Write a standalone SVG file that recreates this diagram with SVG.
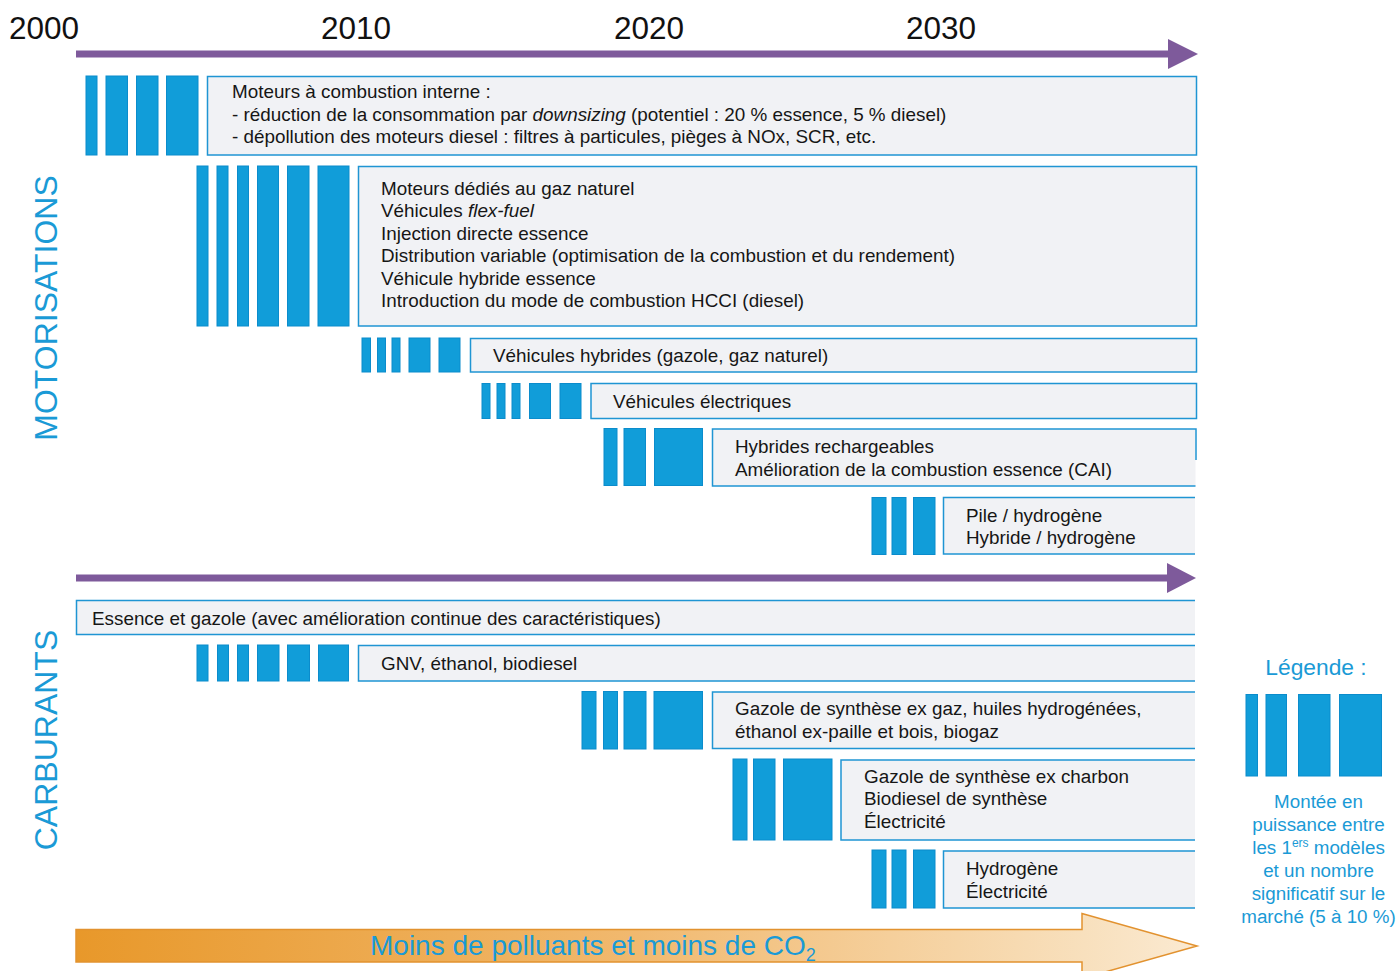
<svg xmlns="http://www.w3.org/2000/svg" width="1398" height="971" viewBox="0 0 1398 971">
  <defs>
    <style>
      .box { fill: #f1f2f5; stroke: #1f95d3; stroke-width: 1.5; }
      .fill { fill: #f1f2f5; stroke: none; }
      .edge { fill: none; stroke: #1f95d3; stroke-width: 1.5; }
      .bar { fill: #119dd9; stroke: #0b8ccc; stroke-width: 1; }
      .t { font-family: "Liberation Sans", Arial, Helvetica, sans-serif; font-size: 18.85px; fill: #161616; }
      .year { font-family: "Liberation Sans", Arial, Helvetica, sans-serif; font-size: 31.5px; fill: #111; }
      .side { font-family: "Liberation Sans", Arial, Helvetica, sans-serif; font-size: 32px; fill: #1a9ad6; text-anchor: middle; }
      .leg { font-family: "Liberation Sans", Arial, Helvetica, sans-serif; font-size: 18.8px; fill: #1a9ad6; text-anchor: middle; }
      .axis { fill: #7e5a9b; }
      .i { font-style: italic; }
    </style>
    <linearGradient id="orange" gradientUnits="userSpaceOnUse" x1="76" y1="0" x2="1197" y2="0">
      <stop offset="0" stop-color="#e8982a"/>
      <stop offset="0.5" stop-color="#f1b96f"/>
      <stop offset="0.9" stop-color="#f8e0bd"/>
      <stop offset="1" stop-color="#fbead2"/>
    </linearGradient>
  </defs>

  <rect width="1398" height="971" fill="#ffffff"/>

  <!-- year scale -->
  <g id="years">
    <text class="year" x="9" y="39">2000</text>
    <text class="year" x="321" y="39">2010</text>
    <text class="year" x="614" y="39">2020</text>
    <text class="year" x="906" y="39">2030</text>
  </g>

  <!-- section titles -->
  <text class="side" transform="translate(57,308) rotate(-90)">MOTORISATIONS</text>
  <text class="side" transform="translate(57,740) rotate(-90)">CARBURANTS</text>

  <!-- timeline arrows -->
  <g id="connectors">
    <rect class="axis" x="76" y="50.5" width="1093" height="7"/>
    <polygon class="axis" points="1168,39 1198,54 1168,69"/>
    <rect class="axis" x="76" y="574.5" width="1092" height="7"/>
    <polygon class="axis" points="1167,563 1196,578 1167,593"/>
    <path d="M76,929.5 H1082 V913.5 L1197,946 L1082,978.5 V962 H76 Z" fill="url(#orange)" stroke="#e2922f" stroke-width="1.5"/>
    <text x="370" y="955" font-family="'Liberation Sans', Arial, Helvetica, sans-serif" font-size="28" fill="#1a9ad6">Moins de polluants et moins de CO<tspan font-size="18" dy="6">2</tspan></text>
  </g>

  <!-- MOTORISATIONS -->
  <g id="combustion-interne">
    <rect class="bar" x="86" y="76" width="11" height="79"/>
    <rect class="bar" x="106" y="76" width="21.5" height="79"/>
    <rect class="bar" x="136.5" y="76" width="21.5" height="79"/>
    <rect class="bar" x="166.5" y="76" width="31.5" height="79"/>
    <rect class="box" x="207.5" y="76.5" width="989" height="78.5"/>
    <text class="t" x="232" y="98">Moteurs à combustion interne :</text>
    <text class="t" x="232" y="120.5">- réduction de la consommation par <tspan class="i">downsizing</tspan> (potentiel : 20 % essence, 5 % diesel)</text>
    <text class="t" x="232" y="143">- dépollution des moteurs diesel : filtres à particules, pièges à NOx, SCR, etc.</text>
  </g>

  <g id="gaz-naturel-flexfuel">
    <rect class="bar" x="197" y="166" width="11" height="160"/>
    <rect class="bar" x="217" y="166" width="11" height="160"/>
    <rect class="bar" x="237.5" y="166" width="11" height="160"/>
    <rect class="bar" x="257.5" y="166" width="21" height="160"/>
    <rect class="bar" x="287.5" y="166" width="21.5" height="160"/>
    <rect class="bar" x="318" y="166" width="31" height="160"/>
    <rect class="box" x="358.5" y="166.5" width="838" height="159.5"/>
    <text class="t" x="381" y="194.5">Moteurs dédiés au gaz naturel</text>
    <text class="t" x="381" y="217">Véhicules <tspan class="i">flex-fuel</tspan></text>
    <text class="t" x="381" y="239.5">Injection directe essence</text>
    <text class="t" x="381" y="262">Distribution variable (optimisation de la combustion et du rendement)</text>
    <text class="t" x="381" y="284.5">Véhicule hybride essence</text>
    <text class="t" x="381" y="307">Introduction du mode de combustion HCCI (diesel)</text>
  </g>

  <g id="hybrides-gazole">
    <rect class="bar" x="362" y="338" width="8.5" height="34"/>
    <rect class="bar" x="377.5" y="338" width="8" height="34"/>
    <rect class="bar" x="392" y="338" width="8" height="34"/>
    <rect class="bar" x="409" y="338" width="21" height="34"/>
    <rect class="bar" x="439" y="338" width="21" height="34"/>
    <rect class="box" x="470.5" y="338.5" width="726" height="33.5"/>
    <text class="t" x="493" y="362">Véhicules hybrides (gazole, gaz naturel)</text>
  </g>

  <g id="electriques">
    <rect class="bar" x="482" y="383.5" width="8" height="35"/>
    <rect class="bar" x="497" y="383.5" width="8" height="35"/>
    <rect class="bar" x="512" y="383.5" width="8" height="35"/>
    <rect class="bar" x="529.5" y="383.5" width="21" height="35"/>
    <rect class="bar" x="560" y="383.5" width="21" height="35"/>
    <rect class="box" x="591" y="383.5" width="605.5" height="35"/>
    <text class="t" x="613" y="407.5">Véhicules électriques</text>
  </g>

  <g id="hybrides-rechargeables">
    <rect class="bar" x="604" y="428.5" width="13" height="57"/>
    <rect class="bar" x="624" y="428.5" width="21.5" height="57"/>
    <rect class="bar" x="654.5" y="428.5" width="48" height="57"/>
    <rect class="fill" x="712.5" y="429" width="483" height="57"/>
    <path class="edge" d="M1196,460 V429 H712.5 V486 H1195.5"/>
    <text class="t" x="735" y="453">Hybrides rechargeables</text>
    <text class="t" x="735" y="475.5">Amélioration de la combustion essence (CAI)</text>
  </g>

  <g id="pile-hydrogene">
    <rect class="bar" x="872" y="497.5" width="14" height="57"/>
    <rect class="bar" x="892" y="497.5" width="14" height="57"/>
    <rect class="bar" x="913.5" y="497.5" width="21.5" height="57"/>
    <rect class="fill" x="943.5" y="497.5" width="251.5" height="56.5"/>
    <path class="edge" d="M1195,497.5 H943.5 V554 H1195"/>
    <text class="t" x="966" y="521.5">Pile / hydrogène</text>
    <text class="t" x="966" y="544">Hybride / hydrogène</text>
  </g>

  <!-- CARBURANTS -->
  <g id="essence-gazole">
    <rect class="fill" x="76.5" y="600.5" width="1118.5" height="34"/>
    <path class="edge" d="M1195,600.5 H76.5 V634.5 H1195"/>
    <text class="t" x="92" y="625">Essence et gazole (avec amélioration continue des caractéristiques)</text>
  </g>

  <g id="gnv-ethanol">
    <rect class="bar" x="197" y="645" width="11" height="36"/>
    <rect class="bar" x="217.5" y="645" width="11" height="36"/>
    <rect class="bar" x="237.5" y="645" width="11" height="36"/>
    <rect class="bar" x="257.5" y="645" width="21.5" height="36"/>
    <rect class="bar" x="287.5" y="645" width="22" height="36"/>
    <rect class="bar" x="318.5" y="645" width="30" height="36"/>
    <rect class="fill" x="358.5" y="645.5" width="836.5" height="35.5"/>
    <path class="edge" d="M1195,645.5 H358.5 V681 H1195"/>
    <text class="t" x="381" y="670">GNV, éthanol, biodiesel</text>
  </g>

  <g id="gazole-synthese-gaz">
    <rect class="bar" x="582" y="691.5" width="14" height="57.5"/>
    <rect class="bar" x="603.5" y="691.5" width="14" height="57.5"/>
    <rect class="bar" x="624" y="691.5" width="22" height="57.5"/>
    <rect class="bar" x="654" y="691.5" width="48.5" height="57.5"/>
    <rect class="fill" x="712.5" y="692" width="482.5" height="56.5"/>
    <path class="edge" d="M1195,692 H712.5 V748.5 H1195"/>
    <text class="t" x="735" y="715">Gazole de synthèse ex gaz, huiles hydrogénées,</text>
    <text class="t" x="735" y="738">éthanol ex-paille et bois, biogaz</text>
  </g>

  <g id="gazole-synthese-charbon">
    <rect class="bar" x="733" y="759" width="14" height="81"/>
    <rect class="bar" x="753.5" y="759" width="21.5" height="81"/>
    <rect class="bar" x="783.5" y="759" width="48.5" height="81"/>
    <rect class="fill" x="841" y="760" width="354" height="80"/>
    <path class="edge" d="M1195,760 H841 V840 H1195"/>
    <text class="t" x="864" y="782.5">Gazole de synthèse ex charbon</text>
    <text class="t" x="864" y="805">Biodiesel de synthèse</text>
    <text class="t" x="864" y="827.5">Électricité</text>
  </g>

  <g id="hydrogene-electricite">
    <rect class="bar" x="872" y="850" width="14" height="58"/>
    <rect class="bar" x="892" y="850" width="14" height="58"/>
    <rect class="bar" x="913.5" y="850" width="21.5" height="58"/>
    <rect class="fill" x="943.5" y="851" width="251.5" height="57"/>
    <path class="edge" d="M1195,851 H943.5 V908 H1195"/>
    <text class="t" x="966" y="875">Hydrogène</text>
    <text class="t" x="966" y="897.5">Électricité</text>
  </g>

  <!-- legend -->
  <g id="legende">
    <text class="leg" x="1316" y="675" style="font-size:22.8px">Légende :</text>
    <rect class="bar" x="1246" y="694.5" width="11.5" height="81.5"/>
    <rect class="bar" x="1266" y="694.5" width="20.5" height="81.5"/>
    <rect class="bar" x="1298.5" y="694.5" width="31.5" height="81.5"/>
    <rect class="bar" x="1339.5" y="694.5" width="42" height="81.5"/>
    <text class="leg" x="1318.5" y="807.5">Montée en</text>
    <text class="leg" x="1318.5" y="830.5">puissance entre</text>
    <text class="leg" x="1318.5" y="853.5">les 1<tspan style="font-size:12px" dy="-7">ers</tspan><tspan dy="7"> modèles</tspan></text>
    <text class="leg" x="1318.5" y="876.5">et un nombre</text>
    <text class="leg" x="1318.5" y="899.5">significatif sur le</text>
    <text class="leg" x="1318.5" y="922.5">marché (5 à 10 %)</text>
  </g>
</svg>
